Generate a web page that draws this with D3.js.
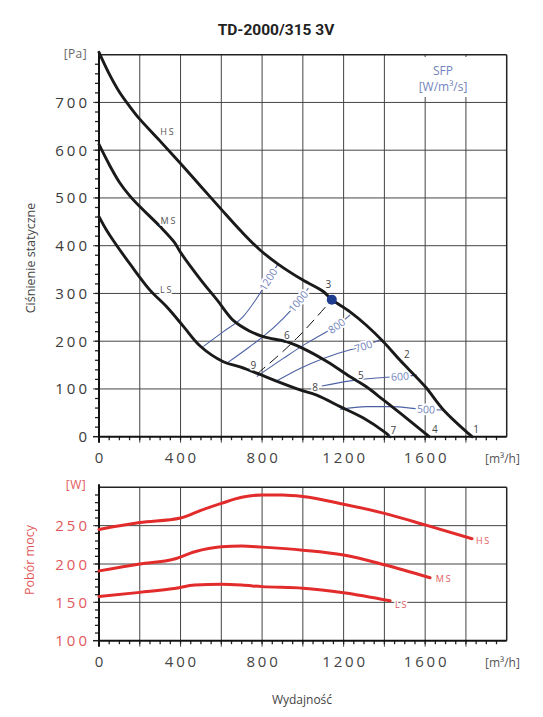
<!DOCTYPE html>
<html>
<head>
<meta charset="utf-8">
<script src="https://cdn.jsdelivr.net/npm/d3@7/dist/d3.min.js"></script>
<style>
  body { margin: 0; background: #fff; }
  svg { display: block; }
</style>
</head>
<body>
<svg id="chart" width="543" height="717"></svg>
<script>
// pressure curves, flow [m3/h] / static pressure [Pa]
const hsFlow = [0, 50, 100, 150, 200, 300, 400, 500, 600, 700, 790, 880, 1000, 1100, 1142, 1230, 1310, 1395, 1477, 1600, 1690, 1830];
const hsPressure = [805, 760, 722, 692, 665, 619, 572, 524, 476, 429, 391, 361, 328, 304, 287, 262, 234, 199, 160, 105, 56, 0];
const msFlow = [0, 50, 100, 150, 200, 300, 370, 400, 500, 580, 660, 740, 810, 920, 1000, 1120, 1230, 1310, 1395, 1490, 1620];
const msPressure = [612, 570, 533, 505, 482, 440, 407, 386, 328, 286, 243, 221, 209, 199, 185, 157, 126, 105, 77, 45, 0];
const lsFlow = [0, 35, 70, 160, 250, 332, 414, 496, 610, 692, 774, 855, 986, 1068, 1183, 1297, 1400, 1428];
const lsPressure = [461, 434, 411, 357, 307, 272, 231, 190, 157, 146, 133, 119, 98, 87, 63, 39, 10, 0];

// power curves, flow [m3/h] / power [W]
const hsPowerFlow = [0, 200, 400, 500, 600, 700, 800, 900, 1000, 1200, 1400, 1600, 1830];
const hsPower = [245, 254, 260, 270, 279, 287, 290, 290, 288, 278, 266, 251, 233];
const msPowerFlow = [0, 200, 370, 470, 600, 700, 800, 1000, 1200, 1400, 1624];
const msPower = [191, 200, 206.5, 216, 222.5, 223.5, 222, 218, 211.7, 199, 182];
const lsPowerFlow = [0, 200, 370, 470, 600, 700, 800, 1000, 1200, 1428];
const lsPower = [157.5, 163, 168, 172.5, 173.5, 172.5, 170.5, 168.5, 162.5, 152];

// SFP iso lines [W/m3/s]: points [flow, pressure], label sits on point labelIdx
const sfpValues = ['1200', '1000', '800', '700', '600', '500'];
const sfpPoints = [
  [[512, 189], [610, 220], [708, 252], [774, 290], [831, 329], [880, 363]],
  [[627, 154], [741, 189], [806, 210], [904, 248], [978, 283], [1027, 311]],
  [[774, 126], [904, 164], [1019, 196], [1117, 220], [1166, 232], [1232, 255]],
  [[864, 115], [986, 143], [1101, 164], [1232, 182], [1297, 189], [1379, 203]],
  [[1093, 106], [1232, 117], [1395, 124], [1477, 126], [1559, 129]],
  [[1183, 57], [1313, 63], [1428, 63], [1604, 57], [1689, 56]]
];
const sfpLabelIdx = [4, 4, 4, 4, 3, 3];

// system curve through working points 9-6-3
const systemFlow = [774, 880, 970, 1060, 1142];
const systemPressure = [131, 170, 206, 247, 287];
const workingPoint = [1142, 287];

// numbered points
const pointNames = ['1', '2', '3', '4', '5', '6', '7', '8', '9'];
const pointFlow = [1850, 1510, 1125, 1647, 1284, 921, 1444, 1060, 757];
const pointPressure = [16, 173, 318, 16, 128, 211, 14, 104, 150];

// curve names
const speedNames = ['HS', 'MS', 'LS'];
const speedLabelFlow = [338, 343, 332];
const speedLabelPressure = [639, 451, 308];
const powerLabelFlow = [1886, 1693, 1485];
const powerLabelValue = [230, 180, 146.5];

const xTicks = [0, 400, 800, 1200, 1600];
const pressureTicks = [0, 100, 200, 300, 400, 500, 600, 700];
const powerTicks = [100, 150, 200, 250];

const svg = d3.select('#chart');
const textGrey = '#3a3a3a';
const red = '#e22b2b';
const redText = '#e2585a';
const blue = '#4d62a3';
const blueText = '#7384bb';
const tickFont = '"Open Sans", sans-serif';

const x = d3.scaleLinear().domain([0, 2000]).range([99, 506.7]);
const yP = d3.scaleLinear().domain([0, 800]).range([436.7, 54.7]);
const yW = d3.scaleLinear().domain([100, 300]).range([640.7, 487.3]);

function halo(sel) {
  return sel.attr('stroke', '#fff').attr('stroke-width', 3).attr('paint-order', 'stroke');
}

function drawFrame(y, yMin, yMax, gridStep, minorStep) {
  const g = svg.append('g');
  const x0 = x(0), x1 = x(2000), yb = y(yMin), yt = y(yMax);
  // horizontal grid
  g.selectAll('.hg')
    .data(d3.range(yMin + gridStep, yMax, gridStep))
    .join('line')
    .attr('x1', x0 - 6).attr('x2', x1)
    .attr('y1', d => y(d)).attr('y2', d => y(d))
    .attr('stroke', '#444').attr('stroke-width', 1);
  // vertical grid
  g.selectAll('.vg')
    .data(d3.range(200, 2000, 200))
    .join('line')
    .attr('x1', d => x(d)).attr('x2', d => x(d))
    .attr('y1', yb + 6).attr('y2', yt)
    .attr('stroke', '#444').attr('stroke-width', 1);
  // minor ticks
  g.selectAll('.my')
    .data(d3.range(yMin + minorStep, yMax, minorStep))
    .join('line')
    .attr('x1', x0 - 4).attr('x2', x0)
    .attr('y1', d => y(d)).attr('y2', d => y(d))
    .attr('stroke', '#222').attr('stroke-width', 1.3);
  g.selectAll('.mx')
    .data(d3.range(50, 2000, 50))
    .join('line')
    .attr('x1', d => x(d)).attr('x2', d => x(d))
    .attr('y1', yb).attr('y2', yb + 3.5)
    .attr('stroke', '#222').attr('stroke-width', 1.3);
  // outer frame
  g.append('line').attr('x1', x0).attr('x2', x1).attr('y1', yt).attr('y2', yt)
    .attr('stroke', '#222').attr('stroke-width', 1.5);
  g.append('line').attr('x1', x1).attr('x2', x1).attr('y1', yt).attr('y2', yb)
    .attr('stroke', '#222').attr('stroke-width', 1.5);
  g.append('line').attr('x1', x0 - 6).attr('x2', x0).attr('y1', yb).attr('y2', yb)
    .attr('stroke', '#222').attr('stroke-width', 1.5);
  // axes
  g.append('line').attr('x1', x0).attr('x2', x0).attr('y1', yb + 6).attr('y2', yt - 3)
    .attr('stroke', '#111').attr('stroke-width', 2);
  g.append('line').attr('x1', x0).attr('x2', x1).attr('y1', yb).attr('y2', yb)
    .attr('stroke', '#111').attr('stroke-width', 2);
  // x tick labels
  g.selectAll('.xl')
    .data(xTicks)
    .join('text')
    .attr('x', d => x(d) + 1.4).attr('y', yb + 26.5)
    .attr('text-anchor', 'middle')
    .attr('font-family', tickFont).attr('font-size', 15).attr('letter-spacing', 2.8)
    .attr('fill', '#444')
    .text(d => d);
  g.append('text')
    .attr('x', 485).attr('y', yb + 26)
    .attr('font-family', tickFont).attr('font-size', 12).attr('fill', '#555')
    .text('[m³/h]');
  return g;
}

// title
svg.append('text')
  .attr('x', 276).attr('y', 35)
  .attr('text-anchor', 'middle')
  .attr('font-family', 'Roboto, sans-serif').attr('font-weight', 700)
  .attr('font-size', 15.5).attr('fill', '#222')
  .text('TD-2000/315 3V');

// ---------- pressure chart ----------
const pressureFrame = drawFrame(yP, 0, 800, 100, 20);

pressureFrame.selectAll('.yl')
  .data(pressureTicks)
  .join('text')
  .attr('x', 90).attr('y', d => yP(d) + 5.5)
  .attr('text-anchor', 'end')
  .attr('font-family', tickFont).attr('font-size', 15).attr('letter-spacing', 3)
  .attr('fill', textGrey)
  .text(d => d);

svg.append('text')
  .attr('x', 87).attr('y', 58)
  .attr('text-anchor', 'end')
  .attr('font-family', tickFont).attr('font-size', 12).attr('letter-spacing', 0.4)
  .attr('fill', '#666')
  .text('[Pa]');

svg.append('text')
  .attr('transform', 'translate(35,258) rotate(-90)')
  .attr('text-anchor', 'middle')
  .attr('font-family', tickFont).attr('font-size', 12.5).attr('fill', '#444')
  .text('Ciśnienie statyczne');

// SFP header with white box over the grid
svg.append('rect').attr('x', 414).attr('y', 57).attr('width', 58).attr('height', 40).attr('fill', '#fff');
svg.append('text')
  .attr('x', 443).attr('y', 75).attr('text-anchor', 'middle')
  .attr('font-family', tickFont).attr('font-size', 12).attr('fill', blueText)
  .text('SFP');
svg.append('text')
  .attr('x', 443).attr('y', 91).attr('text-anchor', 'middle')
  .attr('font-family', tickFont).attr('font-size', 12).attr('fill', blueText)
  .text('[W/m³/s]');

// SFP lines
const sfpLine = d3.line().x(d => x(d[0])).y(d => yP(d[1])).curve(d3.curveMonotoneX);
const sfpG = svg.append('g');
sfpPoints.forEach(pts => {
  sfpG.append('path')
    .attr('d', sfpLine(pts))
    .attr('fill', 'none').attr('stroke', blue).attr('stroke-width', 1.1);
});

// pressure curves
const pLine = d3.line().x(d => x(d[0])).y(d => yP(d[1])).curve(d3.curveCatmullRom.alpha(0.5));
const pressureSets = [
  d3.zip(hsFlow, hsPressure),
  d3.zip(msFlow, msPressure),
  d3.zip(lsFlow, lsPressure)
];
svg.append('g')
  .selectAll('path')
  .data(pressureSets)
  .join('path')
  .attr('d', pLine)
  .attr('fill', 'none').attr('stroke', '#1a1a1a').attr('stroke-width', 2.9)
  .attr('stroke-linecap', 'round');

// system curve
svg.append('path')
  .attr('d', pLine(d3.zip(systemFlow, systemPressure)))
  .attr('fill', 'none').attr('stroke', '#111').attr('stroke-width', 1)
  .attr('stroke-dasharray', '11,6');

// SFP labels on the lines
sfpPoints.forEach((pts, i) => {
  const k = sfpLabelIdx[i];
  const a = pts[Math.max(k - 1, 0)], b = pts[Math.min(k + 1, pts.length - 1)];
  const ang = Math.atan2(yP(b[1]) - yP(a[1]), x(b[0]) - x(a[0])) * 180 / Math.PI;
  halo(sfpG.append('text'))
    .attr('transform', `translate(${x(pts[k][0])},${yP(pts[k][1])}) rotate(${ang})`)
    .attr('dy', '0.35em').attr('text-anchor', 'middle')
    .attr('font-family', tickFont).attr('font-size', 10.5).attr('fill', blueText)
    .attr('stroke-width', 4)
    .text(sfpValues[i]);
});

// numbered points
halo(svg.append('g').selectAll('text')
  .data(pointNames)
  .join('text'))
  .attr('x', (d, i) => x(pointFlow[i])).attr('y', (d, i) => yP(pointPressure[i]))
  .attr('dy', '0.35em').attr('text-anchor', 'middle')
  .attr('font-family', tickFont).attr('font-size', 10).attr('fill', '#444')
  .text(d => d);

// curve names
halo(svg.append('g').selectAll('text')
  .data(speedNames)
  .join('text'))
  .attr('x', (d, i) => x(speedLabelFlow[i])).attr('y', (d, i) => yP(speedLabelPressure[i]))
  .attr('dy', '0.35em').attr('text-anchor', 'middle')
  .attr('font-family', tickFont).attr('font-size', 9).attr('letter-spacing', 1.8)
  .attr('fill', '#555')
  .text(d => d);

// working point
svg.append('circle')
  .attr('cx', x(workingPoint[0])).attr('cy', yP(workingPoint[1])).attr('r', 5)
  .attr('fill', '#1d3b8f');

// ---------- power chart ----------
const powerFrame = drawFrame(yW, 100, 300, 50, 10);

powerFrame.selectAll('.yl')
  .data(powerTicks)
  .join('text')
  .attr('x', 90).attr('y', d => yW(d) + 5.5)
  .attr('text-anchor', 'end')
  .attr('font-family', tickFont).attr('font-size', 15).attr('letter-spacing', 3)
  .attr('fill', redText)
  .text(d => d);

svg.append('text')
  .attr('x', 86).attr('y', 489)
  .attr('text-anchor', 'end')
  .attr('font-family', tickFont).attr('font-size', 12).attr('letter-spacing', 0.4)
  .attr('fill', redText)
  .text('[W]');

svg.append('text')
  .attr('transform', 'translate(34,560) rotate(-90)')
  .attr('text-anchor', 'middle')
  .attr('font-family', tickFont).attr('font-size', 12.5).attr('fill', redText)
  .text('Pobór mocy');

const wLine = d3.line().x(d => x(d[0])).y(d => yW(d[1])).curve(d3.curveMonotoneX);
const powerSets = [
  d3.zip(hsPowerFlow, hsPower),
  d3.zip(msPowerFlow, msPower),
  d3.zip(lsPowerFlow, lsPower)
];
svg.append('g')
  .selectAll('path')
  .data(powerSets)
  .join('path')
  .attr('d', wLine)
  .attr('fill', 'none').attr('stroke', red).attr('stroke-width', 3)
  .attr('stroke-linecap', 'round');

halo(svg.append('g').selectAll('text')
  .data(speedNames)
  .join('text'))
  .attr('x', (d, i) => x(powerLabelFlow[i])).attr('y', (d, i) => yW(powerLabelValue[i]))
  .attr('dy', '0.35em').attr('text-anchor', 'middle')
  .attr('font-family', tickFont).attr('font-size', 9).attr('letter-spacing', 1.8)
  .attr('fill', redText)
  .text(d => d);

svg.append('text')
  .attr('x', 302).attr('y', 704)
  .attr('text-anchor', 'middle')
  .attr('font-family', tickFont).attr('font-size', 12).attr('fill', '#444')
  .text('Wydajność');
</script>
</body>
</html>
